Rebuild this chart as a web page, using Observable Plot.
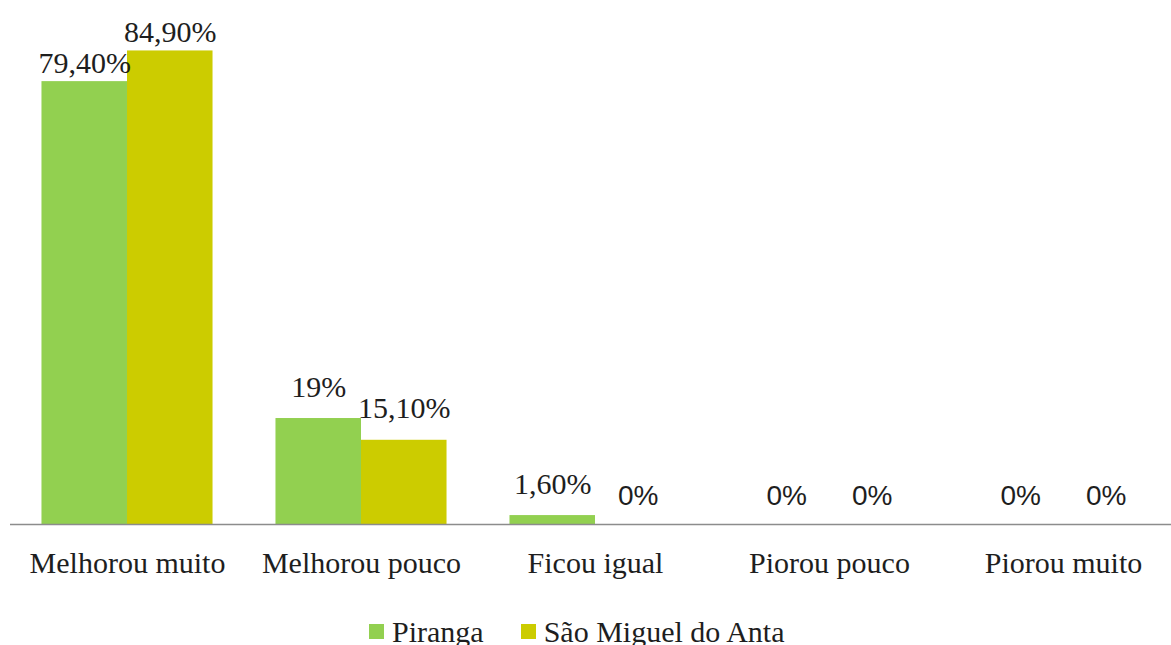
<!DOCTYPE html>
<html>
<head>
<meta charset="utf-8">
<script src="https://cdn.jsdelivr.net/npm/d3@7"></script>
<script src="https://cdn.jsdelivr.net/npm/@observablehq/plot@0.6"></script>
<style>
html, body { margin: 0; padding: 0; background: #fff; overflow: hidden; width: 1171px; height: 645px; }
#chart { position: absolute; left: 0; top: 0; width: 1180px; }
#chart svg { max-width: none !important; }
#legend { position: absolute; left: 369px; top: 617px; display: flex; align-items: center;
  font-family: "Liberation Serif", "Times New Roman", serif; font-size: 30px; line-height: 30px; color: #1e1e1e; white-space: nowrap; }
#legend .item { display: flex; align-items: center; margin-right: 37px; }
#legend .sw { display: inline-block; width: 15px; height: 15px; margin-right: 8px; position: relative; top: -1px; }
</style>
</head>
<body>
<div id="chart"></div>
<div id="legend"></div>
<script>
const categories = ["Melhorou muito", "Melhorou pouco", "Ficou igual", "Piorou pouco", "Piorou muito"];
const series = ["Piranga", "São Miguel do Anta"];
const pirangaValues = [79.4, 19, 1.6, 0, 0];
const saoMiguelValues = [84.9, 15.1, 0, 0, 0];
const pirangaLabels = ["79,40%", "19%", "1,60%", "0%", "0%"];
const saoMiguelLabels = ["84,90%", "15,10%", "0%", "0%", "0%"];
const seriesColors = ["#92D050", "#CCCC00"];

const data = [];
categories.forEach((c, i) => {
  data.push({category: c, series: series[0], value: pirangaValues[i], label: pirangaLabels[i]});
  data.push({category: c, series: series[1], value: saoMiguelValues[i], label: saoMiguelLabels[i]});
});

const serif = "'Liberation Serif', 'Times New Roman', serif";
const sans = "'Liberation Sans', Arial, sans-serif";
const textColor = "#1e1e1e";

const chart = Plot.plot({
  width: 1180,
  height: 605,
  marginLeft: 10,
  marginRight: 0,
  marginTop: 22,
  marginBottom: 81,
  fx: {domain: categories, padding: 0, label: null},
  x: {domain: series, paddingInner: 0, paddingOuter: 0.368, round: false, axis: null},
  y: {domain: [0, 90], axis: null},
  color: {domain: series, range: seriesColors},
  style: {fontFamily: serif, background: "white", overflow: "visible"},
  marks: [
    Plot.barY(data, {fx: "category", x: "series", y: "value", fill: "series"}),
    Plot.ruleY([0], {stroke: "#8c8c8c", strokeWidth: 1.5}),
    Plot.text(data.filter(d => d.value > 0 && d.category === categories[0]), {
      fx: "category", x: "series", y: "value", text: "label",
      lineAnchor: "bottom", dy: -9, fontSize: 30, fontFamily: serif, fill: textColor
    }),
    Plot.text(data.filter(d => d.value > 0 && d.category !== categories[0]), {
      fx: "category", x: "series", y: "value", text: "label",
      lineAnchor: "bottom", dy: -22, fontSize: 30, fontFamily: serif, fill: textColor
    }),
    Plot.text(data.filter(d => d.value === 0), {
      fx: "category", x: "series", y: "value", text: "label",
      lineAnchor: "bottom", dy: -20, fontSize: 28, fontFamily: sans, fill: textColor
    }),
    Plot.axisFx({anchor: "bottom", tickSize: 0, tickPadding: 27, fontSize: 30, fontFamily: serif, fill: textColor, label: null})
  ]
});
document.getElementById("chart").appendChild(chart);

const legend = document.getElementById("legend");
series.forEach((s, i) => {
  const item = document.createElement("span");
  item.className = "item";
  const sw = document.createElement("span");
  sw.className = "sw";
  sw.style.background = seriesColors[i];
  const t = document.createElement("span");
  t.textContent = s;
  item.appendChild(sw);
  item.appendChild(t);
  legend.appendChild(item);
});
</script>
</body>
</html>
